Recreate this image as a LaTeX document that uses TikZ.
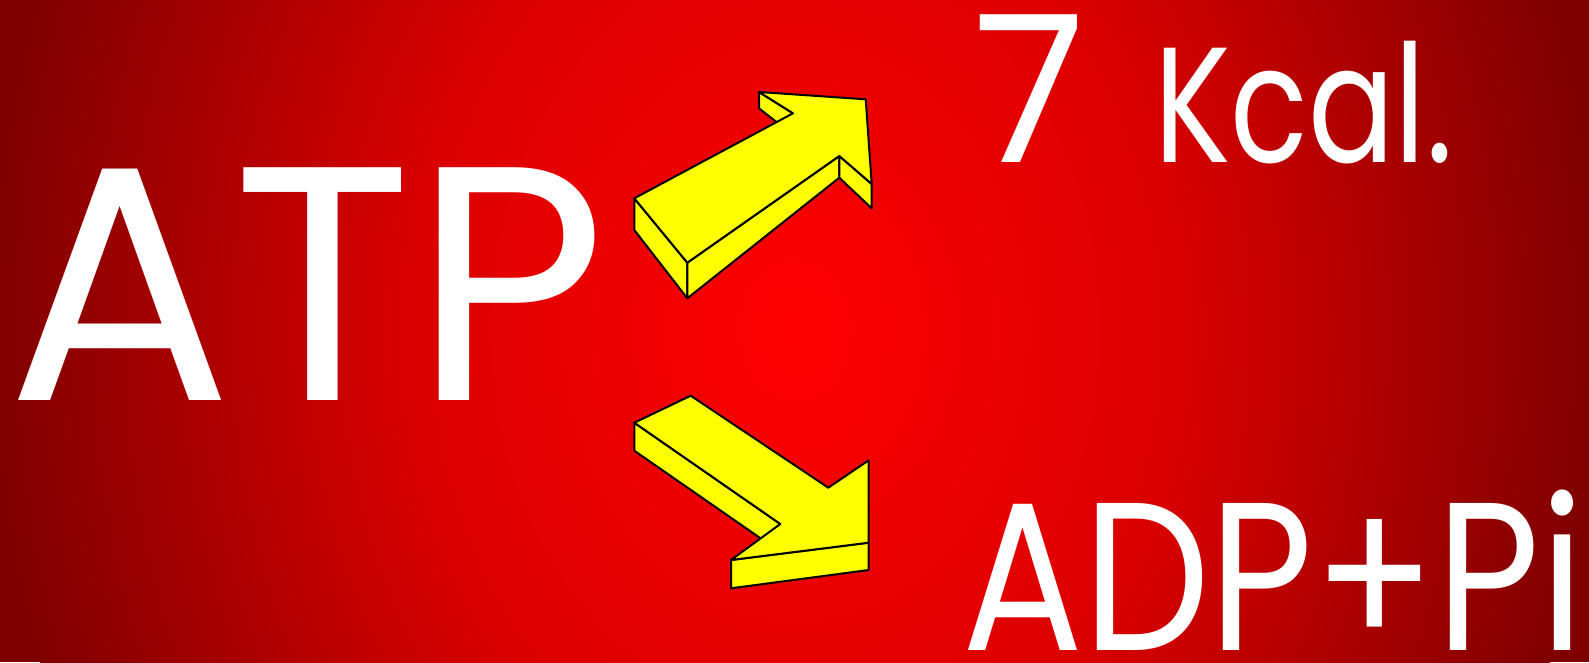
\documentclass[tikz,border=0pt]{standalone}
\usepackage{fontspec}
\setmainfont{Poppins}
\definecolor{bgcenter}{RGB}{255,0,0}
\definecolor{bgmid}{RGB}{218,0,0}
\definecolor{bgedge}{RGB}{128,0,0}
\definecolor{arrowyellow}{RGB}{255,255,0}
\pgfdeclareradialshading{redglow}{\pgfpoint{0bp}{0bp}}{%
  color(0bp)=(bgcenter); color(12bp)=(bgmid); color(25bp)=(bgedge); color(50bp)=(bgedge)}
\tikzset{
  face/.style={fill=arrowyellow,draw=black,line width=2pt,line join=round},
  bigword/.style={white,inner sep=0pt,anchor=base west,text depth=0pt}
}

\begin{document}
\begin{tikzpicture}[x=1pt,y=-1pt]
  % frame and red background
  \useasboundingbox (0,0) rectangle (1589,662);
  \clip (0,0) rectangle (1589,662);
  \fill[bgedge] (0,0) rectangle (1589,662);
  \shade[shading=redglow] (795,330) ellipse (800 and 1000);
  % words
  \node[bigword,font=\fontsize{334}{334}\selectfont] (atp) at (7,400) {ATP};
  \node[bigword] (kcal) at (973,162)
    {{\fontsize{205}{205}\selectfont 7}\hspace{69pt}%
     \scalebox{0.78}[1]{\fontsize{164}{164}\selectfont Kcal.}};
  \node[bigword] (adp) at (962,650)
    {\scalebox{0.85}[1]{\fontsize{211}{211}\selectfont ADP+Pi}};
  % upper arrow (towards the energy)
  \draw[face] (759,92) -- (793,113.3) -- (793,135) -- (759,108.3) -- cycle;
  \draw[face] (634.3,198.3) -- (687.3,262.7) -- (687.3,298.3) -- (634.3,230) -- cycle;
  \draw[face] (687.3,262.7) -- (839.3,156) -- (839.3,177.7) -- (687.3,298.3) -- cycle;
  \draw[face] (839.3,156) -- (871.7,184) -- (871.7,208.3) -- (839.3,177.7) -- cycle;
  \draw[face] (634.3,198.3) -- (793,113.3) -- (759,92) -- (865.7,99.3)
    -- (871.7,184) -- (839.3,156) -- (687.3,262.7) -- cycle;
  % lower arrow (towards the products)
  \draw[face] (634.3,422.7) -- (780.3,524) -- (780.3,552) -- (634.3,450.7) -- cycle;
  \draw[face] (731,560) -- (868.7,542.7) -- (868.7,570) -- (731,588.3) -- cycle;
  \draw[face] (634.3,422.7) -- (690.7,395.7) -- (828.3,487.7) -- (868.7,460.3)
    -- (868.7,542.7) -- (731,560) -- (780.3,524) -- cycle;
\end{tikzpicture}
\end{document}
